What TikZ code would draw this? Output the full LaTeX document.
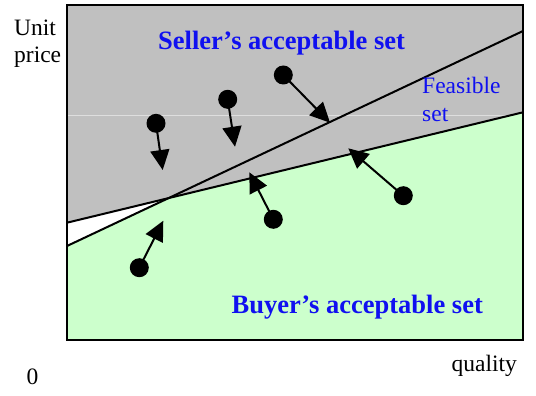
\documentclass[tikz,border=0pt]{standalone}
\usepackage{fontspec}
\setmainfont{Liberation Serif}
\usetikzlibrary{arrows.meta}
\definecolor{sellgray}{RGB}{192,192,192}
\definecolor{buygreen}{RGB}{204,255,204}
\definecolor{labelblue}{RGB}{16,16,240}
\definecolor{faintline}{RGB}{222,222,222}
\begin{document}
\begin{tikzpicture}[x=1pt,y=-1pt,
  frame/.style={draw=black,line width=2pt},
  curve/.style={draw=black,line width=2pt},
  faint/.style={draw=faintline,line width=0.8pt},
  agent/.style={circle,fill=black,inner sep=0pt,minimum size=19pt},
  move/.style={draw=black,line width=2pt,-{Triangle[length=20pt,width=19pt]},shorten <=-1pt},
  axislabel/.style={inner sep=0pt,anchor=base west,font=\fontsize{23.5}{27}\selectfont},
  setlabel/.style={inner sep=0pt,anchor=base west,text=labelblue,font=\fontsize{26.5}{30}\selectfont\bfseries},
  feaslabel/.style={inner sep=0pt,anchor=base west,text=labelblue,font=\fontsize{23.5}{27}\selectfont}]
\useasboundingbox (0,0) rectangle (536,396);
\fill[white] (0,0) rectangle (536,396);
% frame corners and curve end points
\coordinate (fTL) at (67,5);
\coordinate (fTR) at (523,5);
\coordinate (fBL) at (67,340);
\coordinate (fBR) at (523,340);
\coordinate (bL) at (67,246);
\coordinate (bR) at (523,31);
\coordinate (sL) at (67,222.7);
\coordinate (sR) at (523,112.3);
\coordinate (X) at (168.6,198.1);
% regions
\fill[sellgray] (sL) -- (sR) -- (fTR) -- (fTL) -- cycle;
\draw[faint] (67,115) -- (523,115);
\fill[buygreen] (bL) -- (X) -- (sR) -- (fBR) -- (fBL) -- cycle;
% reservation curves
\draw[curve] (bL) -- (bR);
\draw[curve] (sL) -- (sR);
\draw[frame] (fTL) rectangle (fBR);
% labels
\node[axislabel] (unit) at (14,36) {Unit};
\node[axislabel] (price) at (14,63) {price};
\node[axislabel] (quality) at (451.5,371) {quality};
\node[axislabel] (zero) at (26.5,384) {0};
\node[setlabel] (seller) at (158,49.3) {Seller’s acceptable set};
\node[setlabel] (buyer) at (231.5,313.3) {Buyer’s acceptable set};
\node[feaslabel] (feas1) at (422,93.3) {Feasible};
\node[feaslabel] (feas2) at (422,121.7) {set};
% offers and their moves
\node[agent] (d1) at (156,123.3) {};
\coordinate (t1) at (162.7,170);
\node[agent] (d2) at (227.7,99.3) {};
\coordinate (t2) at (235,146.7);
\node[agent] (d3) at (283.3,75) {};
\coordinate (t3) at (330,122.7);
\node[agent] (d4) at (139.3,267.7) {};
\coordinate (t4) at (163.3,220.7);
\node[agent] (d5) at (273.3,219.3) {};
\coordinate (t5) at (249.3,172.3);
\node[agent] (d6) at (403.3,195.7) {};
\coordinate (t6) at (348.3,148.3);
\draw[move] (d1) -- (t1);
\draw[move] (d2) -- (t2);
\draw[move] (d3) -- (t3);
\draw[move] (d4) -- (t4);
\draw[move] (d5) -- (t5);
\draw[move] (d6) -- (t6);
\end{tikzpicture}
\end{document}
